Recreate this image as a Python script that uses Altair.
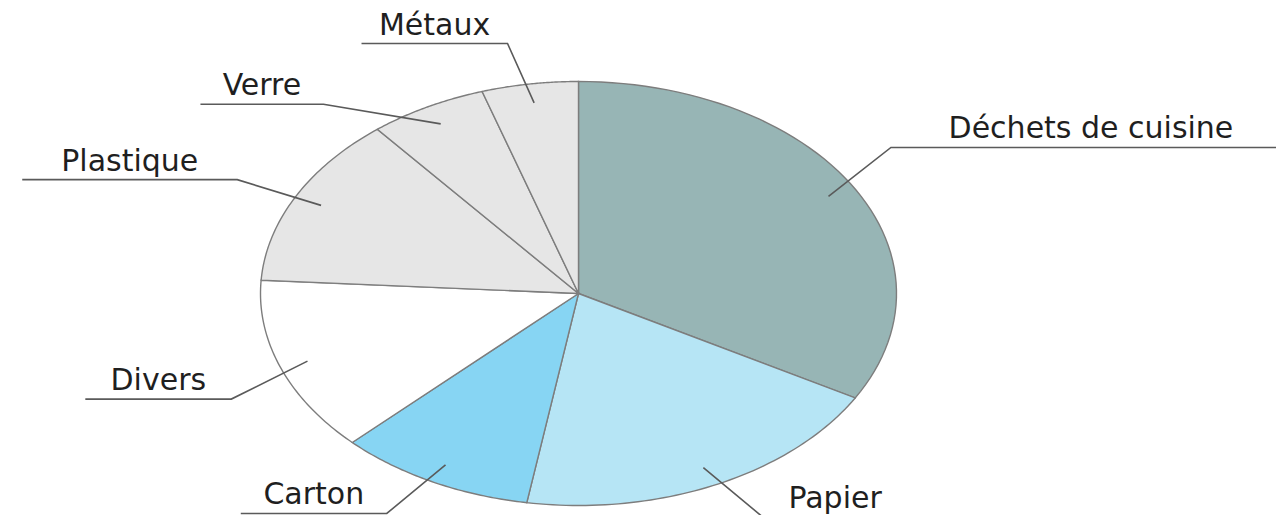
import altair as alt
import pandas as pd

# Composition of household waste (share of total, %)
categories = ["Déchets de cuisine", "Papier", "Carton", "Divers", "Plastique", "Verre", "Métaux"]
shares = [33.2, 19.4, 10.0, 13.4, 13.1, 6.0, 4.9]
slice_colors = ["#97b5b5", "#b6e5f5", "#87d5f3", "#ffffff", "#e6e6e6", "#e6e6e6", "#e6e6e6"]

# Label layout: angular tweak (degrees) of each leader-line elbow from the slice middle
elbow_shift = {
    "Déchets de cuisine": -4.8,
    "Papier": -3.2,
    "Carton": 2.8,
    "Divers": -4.0,
    "Plastique": -0.6,
    "Verre": -13.5,
    "Métaux": -1.9,
}

W, H = 1276, 515
CX, CY = 578.5, 293.5      # pie centre in pixels
RX, RY = 318, 212          # pie radii (flattened ellipse)

x_scale = alt.Scale(domain=[-CX / RX, (W - CX) / RX], zero=False, nice=False)
y_scale = alt.Scale(domain=[-(H - CY) / RY, CY / RY], zero=False, nice=False)

df = pd.DataFrame({
    "cat": categories,
    "share": shares,
    "idx": list(range(len(categories))),
    "shift": [elbow_shift[c] for c in categories],
})

base = (
    alt.Chart(df)
    .transform_joinaggregate(total="sum(share)")
    .transform_window(cum="sum(share)", sort=[alt.SortField("idx")])
    .transform_calculate(
        a0="2 * PI * (datum.cum - datum.share) / datum.total",
        a1="2 * PI * datum.cum / datum.total",
    )
    .transform_calculate(
        mid="(datum.a0 + datum.a1) / 2",
    )
    .transform_calculate(
        eb="datum.mid + datum.shift * PI / 180",
        nsp="length(split(datum.cat, ' ')) - 1",
    )
    .transform_calculate(
        side="sin(datum.eb) >= 0 ? 1 : -1",
        ex="1.2 * sin(datum.eb)",
        ey="1.2 * cos(datum.eb)",
        # underline length grows with the label's length
        ulen="(8 + 23 * length(datum.cat) - 11 * datum.nsp) / 318",
    )
)

X = lambda f: alt.X(f, scale=x_scale, axis=None)
Y = lambda f: alt.Y(f, scale=y_scale, axis=None)

# Pie slices: centre point followed by points along the rim, clockwise from the top
slices = (
    base.transform_calculate(k="sequence(0, 61)")
    .transform_flatten(["k"])
    .transform_calculate(t="datum.a0 + (datum.a1 - datum.a0) * (datum.k - 1) / 59")
    .transform_calculate(
        px="datum.k == 0 ? 0 : sin(datum.t)",
        py="datum.k == 0 ? 0 : cos(datum.t)",
    )
    .mark_line(interpolate="linear-closed", stroke="#7d7d7d", strokeWidth=1.4)
    .encode(
        x=X("px:Q"),
        y=Y("py:Q"),
        order=alt.Order("k:Q"),
        detail="cat:N",
        fill=alt.Fill("cat:N", scale=alt.Scale(domain=categories, range=slice_colors), legend=None),
    )
)

# Leader lines: inside the slice -> elbow -> underline under the label
leaders = (
    base.transform_calculate(k="sequence(0, 3)")
    .transform_flatten(["k"])
    .transform_calculate(
        px="datum.k == 0 ? 0.91 * sin(datum.mid) : datum.k == 1 ? datum.ex : datum.ex + datum.side * datum.ulen",
        py="datum.k == 0 ? 0.91 * cos(datum.mid) : datum.ey",
    )
    .mark_line(stroke="#5a5a5a", strokeWidth=1.6)
    .encode(x=X("px:Q"), y=Y("py:Q"), order=alt.Order("k:Q"), detail="cat:N")
)

labels = (
    base.transform_calculate(lx="datum.ex + datum.side * datum.ulen / 2")
    .mark_text(
        align="center",
        baseline="alphabetic",
        dy=-9,
        font="DejaVu Sans",
        fontSize=30,
        color="#1f1f1f",
    )
    .encode(x=X("lx:Q"), y=Y("ey:Q"), text="cat:N")
)

chart = (
    alt.layer(slices, leaders, labels)
    .properties(
        width=W,
        height=H,
        padding=0,
        background="#ffffff",
        autosize=alt.AutoSizeParams(type="none"),
    )
    .configure_view(stroke=None)
)

chart.save("out.html", embed_options={"renderer": "svg", "actions": False})
